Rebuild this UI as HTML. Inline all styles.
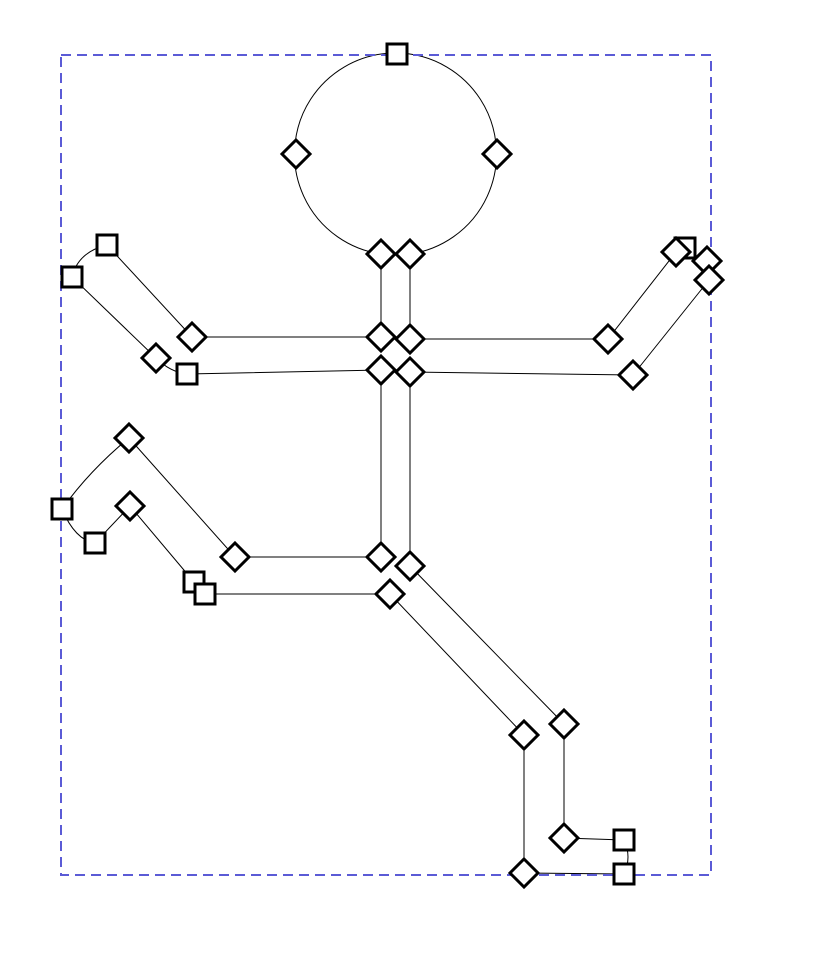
<!DOCTYPE html>
<html><head><style>html,body{margin:0;padding:0;background:#fff;width:834px;height:976px;overflow:hidden}</style></head>
<body>
<svg width="834" height="976" viewBox="0 0 834 976" xmlns="http://www.w3.org/2000/svg">
<g fill="none" stroke="#000" stroke-width="1">
<path d="M381,254 A101,101 0 1 1 410,254"/>
<path d="M381,254 V337 H192 L107,245 Q78,252 72,277 L156,358 Q170,372 187,374 L381,370 V557 H235 L129,438 Q90,470 62,509 Q75,540 95,543 L130,506 L194,582"/>
<path d="M205,594 H390 L524,735 V873 L624,874"/>
<path d="M410,254 V339 H608 L676,252"/>
<path d="M709,280 L633,375 L410,372 V566 L564,724 V838 L624,840"/>
<path d="M624,840 Q632,857 624,874"/>
</g>
<rect x="61" y="55" width="650" height="820" fill="none" stroke="#5b5bd6" stroke-width="2" stroke-dasharray="10,6"/>
<g fill="#fff" stroke="#000" stroke-width="3">
<rect x="387" y="44" width="20" height="20"/>
<rect x="97" y="235" width="20" height="20"/>
<rect x="62" y="267" width="20" height="20"/>
<rect x="177" y="364" width="20" height="20"/>
<rect x="52" y="499" width="20" height="20"/>
<rect x="85" y="533" width="20" height="20"/>
<rect x="184" y="572" width="20" height="20"/>
<rect x="195" y="584" width="20" height="20"/>
<rect x="675" y="238" width="20" height="20"/>
<rect x="614" y="830" width="20" height="20"/>
<rect x="614" y="864" width="20" height="20"/>
</g>
<g fill="#fff" stroke="#000" stroke-width="3">
<path d="M296,140 l14,14 l-14,14 l-14,-14z"/>
<path d="M497,140 l14,14 l-14,14 l-14,-14z"/>
<path d="M381,240 l14,14 l-14,14 l-14,-14z"/>
<path d="M410,240 l14,14 l-14,14 l-14,-14z"/>
<path d="M381,323 l14,14 l-14,14 l-14,-14z"/>
<path d="M410,325 l14,14 l-14,14 l-14,-14z"/>
<path d="M381,356 l14,14 l-14,14 l-14,-14z"/>
<path d="M410,358 l14,14 l-14,14 l-14,-14z"/>
<path d="M192,323 l14,14 l-14,14 l-14,-14z"/>
<path d="M156,344 l14,14 l-14,14 l-14,-14z"/>
<path d="M608,325 l14,14 l-14,14 l-14,-14z"/>
<path d="M633,361 l14,14 l-14,14 l-14,-14z"/>
<path d="M676,238 l14,14 l-14,14 l-14,-14z"/>
<path d="M707,247 l14,14 l-14,14 l-14,-14z"/>
<path d="M709,266 l14,14 l-14,14 l-14,-14z"/>
<path d="M129,424 l14,14 l-14,14 l-14,-14z"/>
<path d="M130,492 l14,14 l-14,14 l-14,-14z"/>
<path d="M235,543 l14,14 l-14,14 l-14,-14z"/>
<path d="M381,543 l14,14 l-14,14 l-14,-14z"/>
<path d="M410,552 l14,14 l-14,14 l-14,-14z"/>
<path d="M390,580 l14,14 l-14,14 l-14,-14z"/>
<path d="M564,710 l14,14 l-14,14 l-14,-14z"/>
<path d="M524,721 l14,14 l-14,14 l-14,-14z"/>
<path d="M564,824 l14,14 l-14,14 l-14,-14z"/>
<path d="M524,859 l14,14 l-14,14 l-14,-14z"/>
</g>
</svg>
</body></html>
